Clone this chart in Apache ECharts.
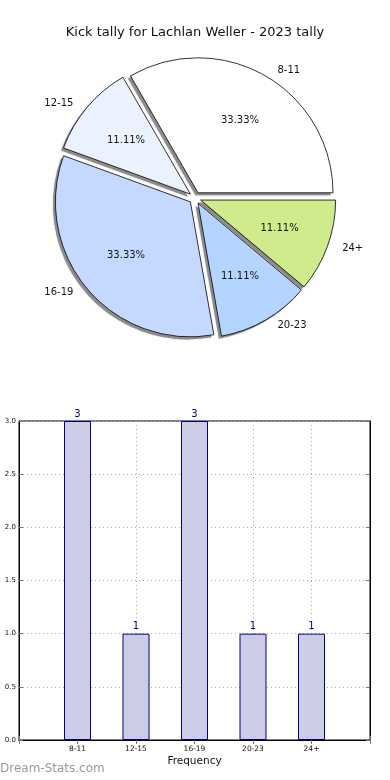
<!DOCTYPE html>
<html>
<head>
<meta charset="utf-8">
<script src="https://cdn.jsdelivr.net/npm/echarts@6/dist/echarts.min.js"></script>
<style>
html,body{margin:0;padding:0;background:#fff;}
#chart{width:390px;height:780px;}
</style>
</head>
<body>
<div id="chart"></div>
<script>
var titleText = 'Kick tally for Lachlan Weller - 2023 tally';
var categories = ['8-11', '12-15', '16-19', '20-23', '24+'];
var counts = [3, 1, 3, 1, 1];
var sliceColors = ['#ffffff', '#ebf2ff', '#c5d8ff', '#b3d5ff', '#cfeb8b'];

var FONT = 'DejaVu Sans';
var chart = echarts.init(document.getElementById('chart'), null, {renderer: 'canvas'});

var total = counts.reduce(function (a, b) { return a + b; }, 0);
var pieData = categories.map(function (c, i) {
  return {name: c, value: counts[i], selected: true, itemStyle: {color: sliceColors[i]}};
});
var plainData = categories.map(function (c, i) {
  return {name: c, value: counts[i], selected: true};
});
var axisCats = [''].concat(categories).concat(['']);
var barData = ['-'].concat(counts).concat(['-']);

var PC = [195, 198], PR = 135, OFF = 6;

var option = {
  animation: false,
  textStyle: {fontFamily: FONT},
  title: {
    text: titleText, left: 'center', top: 21,
    textStyle: {fontFamily: FONT, fontSize: 13, fontWeight: 'normal', color: '#111'}
  },
  graphic: [{
    type: 'text', left: 0, top: 763,
    style: {text: 'Dream-Stats.com', fill: '#999', font: '12px "DejaVu Sans"'}
  }],
  grid: {left: 19, right: 20, top: 421, bottom: 40, show: true, borderColor: '#000', borderWidth: 1, backgroundColor: 'transparent'},
  xAxis: [{
    type: 'category', data: axisCats, boundaryGap: false,
    name: 'Frequency', nameLocation: 'middle', nameGap: 16,
    nameTextStyle: {fontFamily: FONT, fontSize: 10.5, color: '#111'},
    axisLine: {lineStyle: {color: '#000'}},
    axisTick: {inside: true, length: 4, interval: 0, lineStyle: {color: '#777'}},
    axisLabel: {interval: 0, fontSize: 7.5, color: '#111', margin: 5},
    splitLine: {show: true, interval: 0, lineStyle: {type: [1, 3], color: '#aaa'}}
  }, {
    type: 'category', data: axisCats, boundaryGap: false, position: 'top',
    axisLine: {lineStyle: {color: '#000'}},
    axisTick: {inside: true, length: 4, interval: 0, lineStyle: {color: '#777'}},
    axisLabel: {show: false}, splitLine: {show: false}
  }],
  yAxis: [{
    type: 'value', min: 0, max: 3, interval: 0.5,
    axisLine: {show: true, lineStyle: {color: '#000'}},
    axisTick: {show: true, inside: true, length: 4, lineStyle: {color: '#777'}},
    axisLabel: {fontSize: 7, color: '#111', margin: 3, formatter: function (v) { return v.toFixed(1); }},
    splitLine: {show: true, lineStyle: {type: [1, 3], color: '#aaa'}}
  }, {
    type: 'value', min: 0, max: 3, interval: 0.5, position: 'right',
    axisLine: {show: true, lineStyle: {color: '#000'}},
    axisTick: {show: true, inside: true, length: 4, lineStyle: {color: '#777'}},
    axisLabel: {show: false}, splitLine: {show: false}
  }],
  series: [{
    // shadow layer
    type: 'pie', center: [PC[0] - 2.5, PC[1] + 2.5], radius: [0, PR], z: 1,
    startAngle: 0, clockwise: false, silent: true,
    selectedMode: 'multiple', selectedOffset: OFF,
    emphasis: {disabled: true},
    data: plainData,
    itemStyle: {color: '#8c8c8c', borderWidth: 0, shadowBlur: 1.5, shadowColor: 'rgba(0,0,0,0.3)'},
    label: {show: false}, labelLine: {show: false}
  }, {
    type: 'pie', center: PC, radius: [0, PR], z: 2,
    startAngle: 0, clockwise: false,
    selectedMode: 'multiple', selectedOffset: OFF,
    emphasis: {disabled: true},
    data: pieData,
    itemStyle: {borderColor: '#000', borderWidth: 0.8},
    label: {show: true, position: 'outside', formatter: '{b}', fontFamily: FONT, fontSize: 10, color: '#111'},
    labelLine: {show: false, length: 6, length2: 4}
  }, {
    type: 'pie', center: PC, radius: [0, PR * 1.2], z: 3,
    startAngle: 0, clockwise: false, silent: true,
    selectedMode: 'multiple', selectedOffset: OFF,
    emphasis: {disabled: true},
    data: plainData,
    itemStyle: {color: 'rgba(0,0,0,0)', borderWidth: 0},
    label: {show: true, position: 'inside', fontFamily: FONT, fontSize: 10, color: '#111',
      formatter: function (p) { return (p.value / total * 100).toFixed(2) + '%'; }},
    labelLine: {show: false}
  }, {
    type: 'bar', data: barData, barWidth: 27,
    itemStyle: {color: '#cccce6', borderColor: '#000080', borderWidth: 1},
    label: {show: true, position: 'top', distance: 2, color: '#000080', fontSize: 10, fontFamily: FONT},
    emphasis: {disabled: true}
  }]
};
chart.setOption(option);
</script>
</body>
</html>
